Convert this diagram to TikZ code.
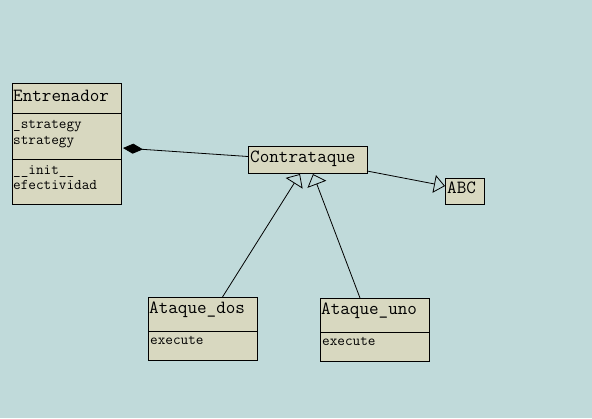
\documentclass[tikz,border=0pt]{standalone}
\usepackage{fontspec}
\usetikzlibrary{arrows.meta, calc, positioning}
\definecolor{bgc}{RGB}{192,218,218}
\definecolor{boxc}{RGB}{216,216,192}
\tikzset{clsbox/.style={draw=black, fill=boxc, line width=0.9pt, outer sep=0pt, inner sep=0pt, anchor=north west},
    ttl/.style={anchor=base west, inner sep=0pt, font=\ttfamily\fontsize{18.6}{20}\selectfont},
    mbr/.style={anchor=base west, inner sep=0pt, font=\ttfamily\fontsize{14.8}{16}\selectfont},
    inh/.style={line width=0.8pt, -{Triangle[open, length=11pt, width=20pt, line width=0.8pt]}},
    cmp/.style={line width=0.8pt, -{Diamond[length=20pt, width=10pt]}}}

\begin{document}
\begin{tikzpicture}[x=1pt, y=-1pt]
                        \fill[bgc] (0, 0) rectangle (592, 418);
                        \useasboundingbox (0, 0) rectangle (592, 418);

                        \node[clsbox, minimum width=109pt, minimum height=121pt] (entrenador) at (12, 83) {};
                        \node[clsbox, minimum width=119pt, minimum height=27pt] (contrataque) at (248, 146) {};
                        \node[clsbox, minimum width=39pt, minimum height=26pt] (abc) at (445, 178) {};
                        \node[clsbox, minimum width=109pt, minimum height=63pt] (ataquedos) at (148, 297) {};
                        \node[clsbox, minimum width=109pt, minimum height=63pt] (ataqueuno) at (320, 298) {};

                        \draw[line width=0.9pt]
                        (entrenador.north west) ++(0, 30) -- ++(109, 0)
                        (entrenador.north west) ++(0, 76) -- ++(109, 0)
                        (ataquedos.north west) ++(0, 34) -- ++(109, 0)
                        (ataqueuno.north west) ++(0, 34) -- ++(109, 0);

                        \node[ttl] (entrenadorname) at (13, 101) {Entrenador};
                        \node[mbr] (strategya) at (13, 128) {\_strategy};
                        \node[mbr] (strategyb) at (13, 144) {strategy};
                        \node[mbr] (init) at (13, 174) {\_\_init\_\_};
                        \node[mbr] (efectividad) at (13, 189) {efectividad};
                        \node[ttl] (contrataquename) at (250, 162) {Contrataque};
                        \node[ttl] (abcname) at (447, 193) {ABC};
                        \node[ttl] (ataquedosname) at (149, 313) {Ataque\_dos};
                        \node[mbr] (executedos) at (150, 344) {execute};
                        \node[ttl] (ataqueunoname) at (321, 314) {Ataque\_uno};
                        \node[mbr] (executeuno) at (322, 345) {execute};

                        \draw[cmp] ($(contrataque.west) + (0, -3)$) -- ($(entrenador.east) + (2, 4.5)$);
                        \draw[inh] ($(ataquedos.north) + (20, 0)$) -- ($(contrataque.south) + (-7.5, 1)$);
                        \draw[inh] ($(ataqueuno.north) + (-14.5, 0)$) -- ($(contrataque.south) + (5.5, 1)$);
                        \draw[inh, -{Triangle[open, length=11pt, width=18pt, line width=0.8pt]}]
                        ($(contrataque.east) + (0, 11.5)$) -- ($(abc.west) + (0, -5)$);
\end{tikzpicture}
\end{document}
